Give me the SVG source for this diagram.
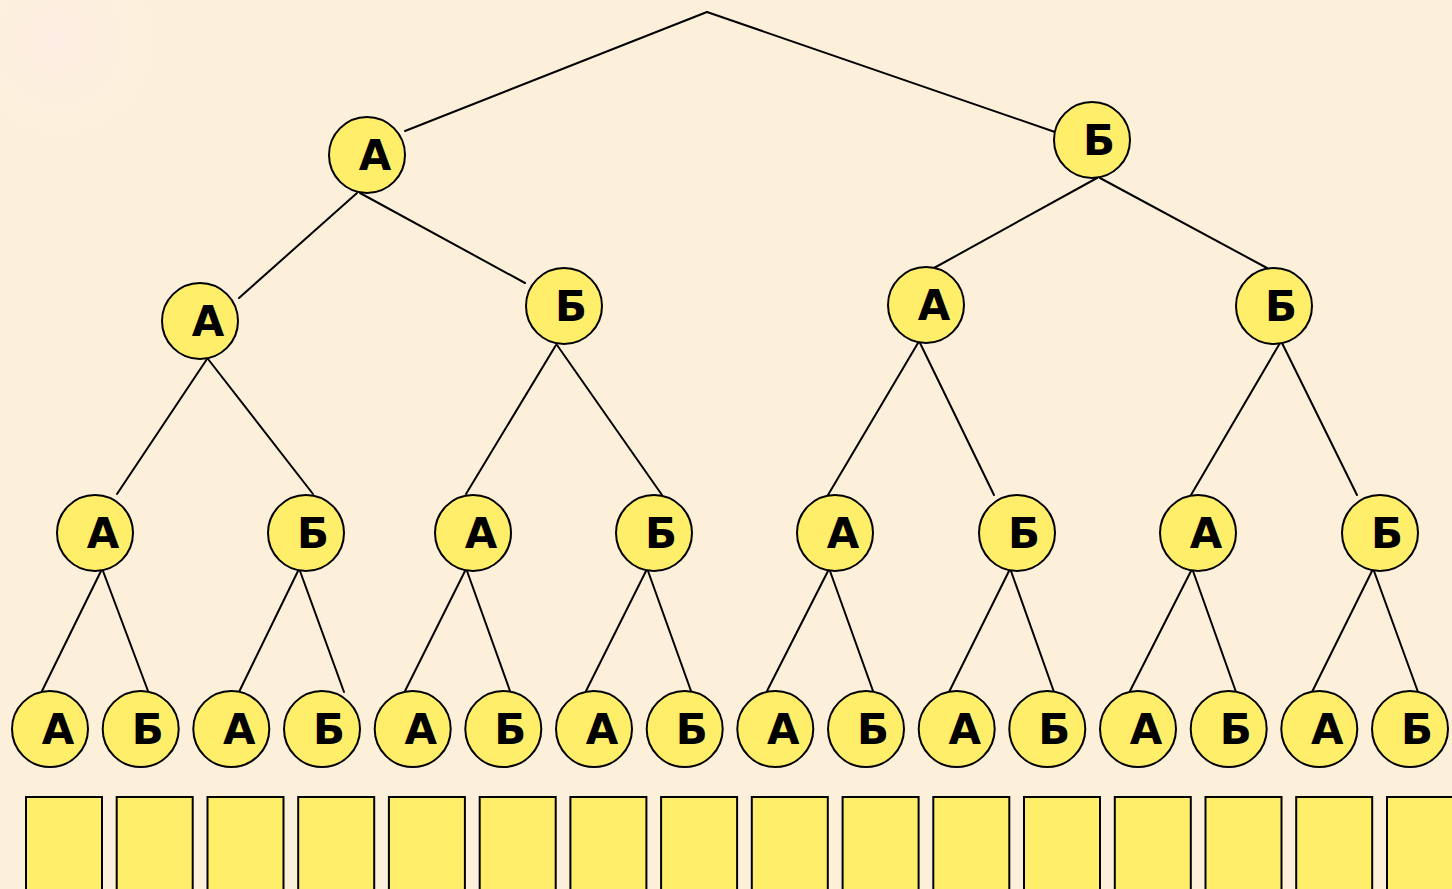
<svg xmlns="http://www.w3.org/2000/svg" width="1452" height="889" viewBox="0 0 1452 889">
<defs>
<style>
.n circle{fill:#FFEE6A;stroke:#000;stroke-width:2}
.n text{font-family:"Comic Sans MS","DejaVu Sans","Liberation Sans",sans-serif;font-weight:bold;font-size:42px;fill:#000;text-anchor:middle}
#connectors line{stroke:#000;stroke-width:2;stroke-linecap:round}
.box{fill:#FFEE6A;stroke:#000;stroke-width:2}
</style>
<radialGradient id="tl" cx="60" cy="40" r="140" gradientUnits="userSpaceOnUse">
<stop offset="0" stop-color="#FDEDE4"/>
<stop offset="1" stop-color="#FCF0DA" stop-opacity="0"/>
</radialGradient>
</defs>
<rect x="0" y="0" width="1452" height="889" fill="#FCF0DA"/>
<rect x="0" y="0" width="300" height="200" fill="url(#tl)"/>
<g id="connectors">
<line x1="707" y1="12" x2="405" y2="131"/>
<line x1="707" y1="12" x2="1055" y2="132"/>
<line x1="357" y1="193" x2="239" y2="298"/>
<line x1="360" y1="193" x2="525" y2="283"/>
<line x1="1097" y1="178" x2="934" y2="268"/>
<line x1="1100" y1="178" x2="1267" y2="268"/>
<line x1="207" y1="359" x2="117" y2="494"/>
<line x1="208" y1="359" x2="313" y2="494"/>
<line x1="556" y1="345" x2="466" y2="494"/>
<line x1="557" y1="345" x2="662" y2="495"/>
<line x1="918" y1="343" x2="828" y2="495"/>
<line x1="920" y1="343" x2="994" y2="495"/>
<line x1="1280" y1="343" x2="1191" y2="495"/>
<line x1="1282" y1="343" x2="1357" y2="495"/>
<line x1="101" y1="571" x2="42" y2="691"/>
<line x1="103" y1="571" x2="148" y2="691"/>
<line x1="298" y1="571" x2="239" y2="692"/>
<line x1="300" y1="571" x2="344" y2="692"/>
<line x1="465" y1="571" x2="405" y2="691"/>
<line x1="467" y1="571" x2="510" y2="691"/>
<line x1="646" y1="571" x2="586" y2="691"/>
<line x1="648" y1="571" x2="691" y2="691"/>
<line x1="828" y1="571" x2="767" y2="691"/>
<line x1="830" y1="571" x2="873" y2="691"/>
<line x1="1009" y1="571" x2="949" y2="692"/>
<line x1="1011" y1="571" x2="1054" y2="692"/>
<line x1="1191" y1="571" x2="1130" y2="691"/>
<line x1="1193" y1="571" x2="1236" y2="692"/>
<line x1="1372" y1="571" x2="1312" y2="692"/>
<line x1="1374" y1="571" x2="1418" y2="692"/>
</g>
<g id="n1a" class="n"><circle cx="367" cy="155" r="38"/><text x="375" y="170">А</text></g>
<g id="n1b" class="n"><circle cx="1092" cy="140" r="38"/><text x="1099" y="155">Б</text></g>
<g id="n2a1" class="n"><circle cx="200" cy="321" r="38"/><text x="208" y="336">А</text></g>
<g id="n2b1" class="n"><circle cx="564" cy="306" r="38"/><text x="571" y="321">Б</text></g>
<g id="n2a2" class="n"><circle cx="926" cy="305" r="38"/><text x="934" y="320">А</text></g>
<g id="n2b2" class="n"><circle cx="1274" cy="306" r="38"/><text x="1281" y="321">Б</text></g>
<g id="n3a1" class="n"><circle cx="95" cy="533" r="38"/><text x="103" y="548">А</text></g>
<g id="n3b1" class="n"><circle cx="306" cy="533" r="38"/><text x="313" y="548">Б</text></g>
<g id="n3a2" class="n"><circle cx="473" cy="533" r="38"/><text x="481" y="548">А</text></g>
<g id="n3b2" class="n"><circle cx="654" cy="533" r="38"/><text x="661" y="548">Б</text></g>
<g id="n3a3" class="n"><circle cx="835" cy="533" r="38"/><text x="843" y="548">А</text></g>
<g id="n3b3" class="n"><circle cx="1017" cy="533" r="38"/><text x="1024" y="548">Б</text></g>
<g id="n3a4" class="n"><circle cx="1198" cy="533" r="38"/><text x="1206" y="548">А</text></g>
<g id="n3b4" class="n"><circle cx="1380" cy="533" r="38"/><text x="1387" y="548">Б</text></g>
<g id="n4_1" class="n"><circle cx="50" cy="729" r="38"/><text x="58" y="744">А</text></g>
<g id="n4_2" class="n"><circle cx="140.7" cy="729" r="38"/><text x="147.7" y="744">Б</text></g>
<g id="n4_3" class="n"><circle cx="231.3" cy="729" r="38"/><text x="239.3" y="744">А</text></g>
<g id="n4_4" class="n"><circle cx="322" cy="729" r="38"/><text x="329" y="744">Б</text></g>
<g id="n4_5" class="n"><circle cx="412.7" cy="729" r="38"/><text x="420.7" y="744">А</text></g>
<g id="n4_6" class="n"><circle cx="503.3" cy="729" r="38"/><text x="510.3" y="744">Б</text></g>
<g id="n4_7" class="n"><circle cx="594" cy="729" r="38"/><text x="602" y="744">А</text></g>
<g id="n4_8" class="n"><circle cx="684.7" cy="729" r="38"/><text x="691.7" y="744">Б</text></g>
<g id="n4_9" class="n"><circle cx="775.3" cy="729" r="38"/><text x="783.3" y="744">А</text></g>
<g id="n4_10" class="n"><circle cx="866" cy="729" r="38"/><text x="873" y="744">Б</text></g>
<g id="n4_11" class="n"><circle cx="956.7" cy="729" r="38"/><text x="964.7" y="744">А</text></g>
<g id="n4_12" class="n"><circle cx="1047.3" cy="729" r="38"/><text x="1054.3" y="744">Б</text></g>
<g id="n4_13" class="n"><circle cx="1138" cy="729" r="38"/><text x="1146" y="744">А</text></g>
<g id="n4_14" class="n"><circle cx="1228.7" cy="729" r="38"/><text x="1235.7" y="744">Б</text></g>
<g id="n4_15" class="n"><circle cx="1319.3" cy="729" r="38"/><text x="1327.3" y="744">А</text></g>
<g id="n4_16" class="n"><circle cx="1410" cy="729" r="38"/><text x="1417" y="744">Б</text></g>
<g id="boxes">
<rect class="box" x="26" y="797" width="76" height="100"/>
<rect class="box" x="116.7" y="797" width="76" height="100"/>
<rect class="box" x="207.5" y="797" width="76" height="100"/>
<rect class="box" x="298.2" y="797" width="76" height="100"/>
<rect class="box" x="388.9" y="797" width="76" height="100"/>
<rect class="box" x="479.7" y="797" width="76" height="100"/>
<rect class="box" x="570.4" y="797" width="76" height="100"/>
<rect class="box" x="661.1" y="797" width="76" height="100"/>
<rect class="box" x="751.8" y="797" width="76" height="100"/>
<rect class="box" x="842.6" y="797" width="76" height="100"/>
<rect class="box" x="933.3" y="797" width="76" height="100"/>
<rect class="box" x="1024" y="797" width="76" height="100"/>
<rect class="box" x="1114.8" y="797" width="76" height="100"/>
<rect class="box" x="1205.5" y="797" width="76" height="100"/>
<rect class="box" x="1296.2" y="797" width="76" height="100"/>
<rect class="box" x="1387" y="797" width="76" height="100"/>
</g>
</svg>
